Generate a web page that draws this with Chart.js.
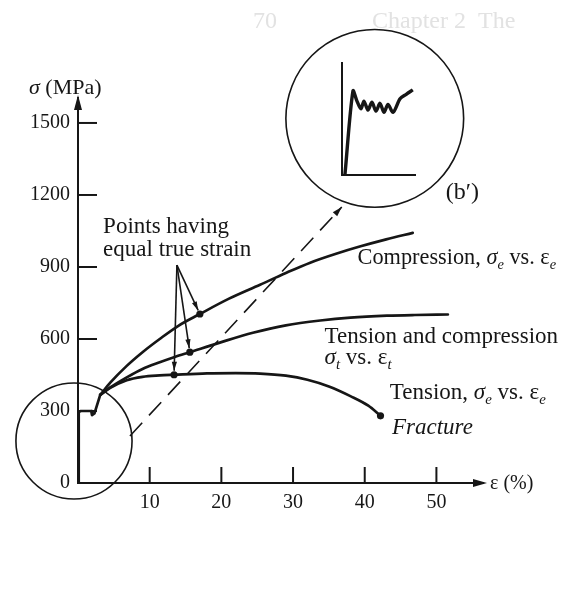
<!DOCTYPE html>
<html>
<head>
<meta charset="utf-8">
<script src="https://cdn.jsdelivr.net/npm/chart.js@4.4.1/dist/chart.umd.min.js"></script>
<style>
  html, body { margin: 0; padding: 0; background: #fff; }
  #wrap { position: relative; width: 570px; height: 597px; }
  #main { position: absolute; left: 0; top: 0; }
  #inset { position: absolute; left: 330px; top: 50px; }
</style>
</head>
<body>
<div id="wrap">
  <canvas id="main" width="570" height="597"></canvas>
  <canvas id="inset" width="100" height="135"></canvas>
</div>
<script>
const SERIF = "'Liberation Serif', 'Times New Roman', serif";
const INK = '#161616';

// axis ticks
const xTicks = [10, 20, 30, 40, 50];
const yTicks = [0, 300, 600, 900, 1200, 1500];

// elastic part + yield plateau, shared by all curves (strain %, MPa)
const yieldEps = [0, 0.1, 0.4, 1.85, 1.95, 2.3, 3.1];
const yieldSig = [0, 296, 300, 300, 283, 290, 367];

// compression, engineering stress vs engineering strain
const compEps = [3.1, 4.5, 6.8, 9, 11.4, 14, 17, 21, 25.4, 29, 32.4, 36, 39.3, 43, 46.7];
const compSig = [367, 418, 488, 545, 600, 655, 704, 767, 826, 875, 918, 955, 985, 1015, 1042];

// tension and compression, true stress vs true strain
const trueEps = [3.1, 4.5, 6.8, 9, 11.4, 13.5, 15.6, 20, 24.4, 29, 33.8, 38, 43.1, 47, 51.6];
const trueSig = [367, 398, 440, 475, 503, 525, 545, 587, 626, 657, 677, 689, 697, 700, 702];

// tension, engineering stress vs engineering strain (ends at fracture)
const tensEps = [3.1, 4.5, 6.8, 9, 11.4, 13.4, 18, 22, 25.4, 29, 32, 35, 38, 40.5, 42.2];
const tensSig = [367, 396, 428, 442, 448, 451, 457, 458, 456, 447, 430, 402, 362, 322, 280];

// points of equal true strain + fracture point
const markEps = [17, 15.6, 13.4, 42.2];
const markSig = [704, 545, 451, 280];

// enlarged yield region (b'), arbitrary units 0..100
const insetX = [4, 15, 20.5, 26, 30, 35.6, 41, 46.6, 52, 57.5, 63, 70, 79.5, 88, 97];
const insetY = [0, 75, 66, 59, 66, 58, 65, 57, 64, 56, 63, 56, 68, 72, 76];

const pts = (xs, ys) => xs.map((x, i) => ({ x: x, y: ys[i] }));

// annotation anchors in data units
const pointerFrom = { e: 13.8, s: 908 };
const linkFrom = { e: 7.25, s: 196 };
const linkTo = { e: 36.8, s: 1150 };
const circles = [
  { e: -0.56, s: 175, r: 8.1 },
  { e: 41.4, s: 1519, r: 12.4 }
];

const notes = [
  { e: 3.5, s: 1067, parts: [{ t: 'Points having' }] },
  { e: 3.5, s: 971, parts: [{ t: 'equal true strain' }] },
  { e: 39.0, s: 937, size: 22.3, parts: [{ t: 'Compression, ' }, { t: 'σ', it: true }, { t: 'e', it: true, sub: true }, { t: ' vs. ' }, { t: 'ε' }, { t: 'e', it: true, sub: true }] },
  { e: 34.4, s: 608, parts: [{ t: 'Tension and compression' }] },
  { e: 34.4, s: 521, parts: [{ t: 'σ', it: true }, { t: 't', it: true, sub: true }, { t: ' vs. ' }, { t: 'ε' }, { t: 't', it: true, sub: true }] },
  { e: 43.5, s: 375, parts: [{ t: 'Tension, ' }, { t: 'σ', it: true }, { t: 'e', it: true, sub: true }, { t: ' vs. ' }, { t: 'ε' }, { t: 'e', it: true, sub: true }] },
  { e: 43.8, s: 229, parts: [{ t: 'Fracture', it: true }] },
  { e: 51.3, s: 1208, size: 24, parts: [{ t: '(b′)' }] }
];

function arrowHead(ctx, x1, y1, x2, y2, len, half) {
  const a = Math.atan2(y2 - y1, x2 - x1);
  const c = Math.cos(a), s = Math.sin(a);
  ctx.beginPath();
  ctx.moveTo(x2, y2);
  ctx.lineTo(x2 - len * c + half * s, y2 - len * s - half * c);
  ctx.lineTo(x2 - len * c - half * s, y2 - len * s + half * c);
  ctx.closePath();
  ctx.fill();
}

function richText(ctx, x, y, parts, size) {
  let cx = x;
  parts.forEach(p => {
    const fs = p.sub ? size * 0.65 : size;
    ctx.font = (p.it ? 'italic ' : '') + fs + 'px ' + SERIF;
    ctx.fillText(p.t, cx, p.sub ? y + size * 0.3 : y);
    cx += ctx.measureText(p.t).width;
  });
}

const decorations = {
  id: 'decorations',
  beforeDraw(chart) {
    // faint print-through from the facing page
    const ctx = chart.ctx;
    ctx.save();
    ctx.fillStyle = '#e2e2e2';
    ctx.font = '24px ' + SERIF;
    ctx.textBaseline = 'middle';
    ctx.fillText('70', 253, 22);
    ctx.fillText('Chapter 2  The', 372, 22);
    ctx.restore();
  },
  afterDraw(chart) {
    const ctx = chart.ctx;
    const xs = chart.scales.x, ys = chart.scales.y;
    const area = chart.chartArea;
    const px = e => xs.getPixelForValue(e);
    const py = s => ys.getPixelForValue(s);

    ctx.save();
    ctx.strokeStyle = INK;
    ctx.fillStyle = INK;
    ctx.lineCap = 'butt';

    // inward tick marks
    ctx.lineWidth = 2;
    yTicks.forEach(v => {
      if (v === 0) return;
      ctx.beginPath();
      ctx.moveTo(area.left, py(v));
      ctx.lineTo(area.left + 19, py(v));
      ctx.stroke();
    });
    xTicks.forEach(v => {
      ctx.beginPath();
      ctx.moveTo(px(v), area.bottom);
      ctx.lineTo(px(v), area.bottom - 16);
      ctx.stroke();
    });

    // axis arrowheads
    arrowHead(ctx, area.left, area.bottom, area.left, area.top - 3, 15, 4);
    arrowHead(ctx, area.left, area.bottom, area.right + 4, area.bottom, 14, 4);

    // axis titles
    ctx.textBaseline = 'middle';
    richText(ctx, area.left - 49, area.top - 10, [{ t: 'σ', it: true }, { t: ' (MPa)' }], 22);
    richText(ctx, area.right + 7, area.bottom + 1, [{ t: 'ε (%)' }], 20);

    // magnifier circles
    ctx.lineWidth = 1.6;
    circles.forEach(c => {
      const r = px(c.r) - px(0);
      ctx.beginPath();
      ctx.arc(px(c.e), py(c.s), r, 0, Math.PI * 2);
      ctx.stroke();
    });

    // dashed link between the circles
    const lx1 = px(linkFrom.e), ly1 = py(linkFrom.s);
    const lx2 = px(linkTo.e), ly2 = py(linkTo.s);
    ctx.lineWidth = 1.6;
    ctx.setLineDash([18, 10]);
    ctx.beginPath();
    ctx.moveTo(lx1, ly1);
    ctx.lineTo(lx2, ly2);
    ctx.stroke();
    ctx.setLineDash([]);
    arrowHead(ctx, lx1, ly1, lx2, ly2, 10, 3);

    // pointers to the points of equal true strain
    const ax = px(pointerFrom.e), ay = py(pointerFrom.s);
    ctx.lineWidth = 1.6;
    for (let i = 0; i < 3; i++) {
      const tx = px(markEps[i]), ty = py(markSig[i]);
      const d = Math.hypot(tx - ax, ty - ay);
      const ex = tx - (tx - ax) * 4 / d, ey = ty - (ty - ay) * 4 / d;
      ctx.beginPath();
      ctx.moveTo(ax, ay);
      ctx.lineTo(ex, ey);
      ctx.stroke();
      arrowHead(ctx, ax, ay, ex, ey, 9, 2.6);
    }

    // curve labels
    ctx.textBaseline = 'middle';
    notes.forEach(n => richText(ctx, px(n.e), py(n.s), n.parts, n.size || 23));

    ctx.restore();
  }
};

const curve = (xs, ys, extra) => Object.assign({
  data: pts(xs, ys), borderColor: INK, borderWidth: 2.7, pointRadius: 0,
  borderJoinStyle: 'round', borderCapStyle: 'round'
}, extra);

new Chart(document.getElementById('main'), {
  type: 'line',
  data: {
    datasets: [
      curve(yieldEps, yieldSig, { tension: 0 }),
      curve(compEps, compSig, { cubicInterpolationMode: 'monotone' }),
      curve(trueEps, trueSig, { cubicInterpolationMode: 'monotone' }),
      curve(tensEps, tensSig, { cubicInterpolationMode: 'monotone' }),
      { data: pts(markEps, markSig), showLine: false, pointRadius: 3.6, pointBackgroundColor: INK, pointBorderWidth: 0 }
    ]
  },
  options: {
    responsive: false,
    animation: false,
    events: [],
    layout: { padding: { left: 8, right: 87, top: 98, bottom: 0 } },
    plugins: { legend: { display: false }, tooltip: { enabled: false } },
    scales: {
      x: {
        type: 'linear', min: 0, max: 56.5,
        grid: { display: false, drawTicks: false },
        border: { display: true, color: INK, width: 2 },
        afterBuildTicks: s => { s.ticks = xTicks.map(v => ({ value: v })); },
        afterFit: s => { s.height = 114; },
        ticks: { color: INK, font: { family: SERIF, size: 20 }, padding: 8, maxRotation: 0, callback: v => String(v) }
      },
      y: {
        type: 'linear', min: 0, max: 1604,
        grid: { display: false, drawTicks: false },
        border: { display: true, color: INK, width: 2 },
        afterBuildTicks: s => { s.ticks = yTicks.map(v => ({ value: v })); },
        afterFit: s => { s.width = 70; },
        ticks: { color: INK, font: { family: SERIF, size: 20 }, padding: 8, callback: v => String(v) }
      }
    }
  },
  plugins: [decorations]
});

// enlarged view of the yield drop (b')
new Chart(document.getElementById('inset'), {
  type: 'line',
  data: {
    datasets: [
      { data: pts(insetX, insetY), borderColor: INK, borderWidth: 3.4, pointRadius: 0, tension: 0.3, borderJoinStyle: 'round' }
    ]
  },
  options: {
    responsive: false,
    animation: false,
    events: [],
    layout: { padding: { left: 12, right: 15, top: 13, bottom: 0 } },
    plugins: { legend: { display: false }, tooltip: { enabled: false } },
    scales: {
      x: {
        type: 'linear', min: 0, max: 100,
        grid: { display: false, drawTicks: false },
        ticks: { display: false },
        border: { display: true, color: INK, width: 2 },
        afterFit: s => { s.height = 10; }
      },
      y: {
        type: 'linear', min: 0, max: 100,
        grid: { display: false, drawTicks: false },
        ticks: { display: false },
        border: { display: true, color: INK, width: 2 },
        afterFit: s => { s.width = 0; }
      }
    }
  }
});
</script>
</body>
</html>
